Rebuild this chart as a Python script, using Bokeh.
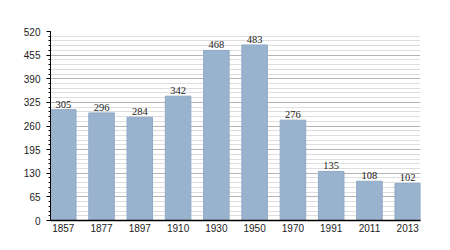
from bokeh.plotting import figure
from bokeh.models import ColumnDataSource, SingleIntervalTicker, FixedTicker, Range1d, LabelSet
from bokeh.embed import file_html
from bokeh.resources import INLINE

years = ["1857", "1877", "1897", "1910", "1930", "1950", "1970", "1991", "2011", "2013"]
population = [305, 296, 284, 342, 468, 483, 276, 135, 108, 102]
y_max = 520
y_step = 65

xs = list(range(len(years)))
bar_w = 0.667
src = ColumnDataSource(dict(x=xs, top=population, label=[str(v) for v in population]))

p = figure(width=450, height=250, output_backend="svg", toolbar_location=None,
           x_range=Range1d(-bar_w / 2, len(years) - 1 + bar_w / 2),
           y_range=Range1d(0, y_max),
           min_border_left=50, min_border_right=30, min_border_top=31, min_border_bottom=30)
p.outline_line_color = None
p.background_fill_color = "white"

p.vbar(x="x", top="top", width=bar_w, source=src, fill_color="#99b3cf", line_color="#8fa9c6", line_width=1)

labels = LabelSet(x="x", y="top", text="label", source=src, text_align="center", text_baseline="bottom",
                  y_offset=2, text_font="Liberation Sans", text_font_size="10.5px", text_color="#222222")
p.add_layout(labels)

p.yaxis.ticker = SingleIntervalTicker(interval=y_step, num_minor_ticks=5)
p.ygrid.ticker = p.yaxis.ticker
p.ygrid.grid_line_color = "#b4b4b4"
p.ygrid.grid_line_width = 1
p.ygrid.minor_grid_line_color = "#dedede"
p.xgrid.grid_line_color = None

p.yaxis.axis_line_color = "black"
p.yaxis.major_tick_line_color = "black"
p.yaxis.minor_tick_line_color = "black"
p.yaxis.major_tick_out = 4
p.yaxis.major_tick_in = 0
p.yaxis.minor_tick_out = 2
p.yaxis.minor_tick_in = 0
p.yaxis.major_label_text_font = "Liberation Sans"
p.yaxis.major_label_text_font_size = "10px"
p.yaxis.major_label_text_color = "#222222"
p.yaxis.major_label_standoff = 6

p.xaxis.ticker = FixedTicker(ticks=xs, minor_ticks=[])
p.xaxis.major_label_overrides = {i: y for i, y in enumerate(years)}
p.xaxis.axis_line_color = "black"
p.xaxis.axis_line_width = 1.5
p.xaxis.major_tick_line_color = None
p.xaxis.minor_tick_line_color = None
p.xaxis.major_tick_out = 0
p.xaxis.major_tick_in = 0
p.xaxis.minor_tick_out = 0
p.xaxis.minor_tick_in = 0
p.xaxis.major_label_text_font = "Liberation Sans"
p.xaxis.major_label_text_font_size = "10px"
p.xaxis.major_label_text_color = "#222222"
p.xaxis.major_label_standoff = 3

open("out.html", "w").write(file_html(p, INLINE))
